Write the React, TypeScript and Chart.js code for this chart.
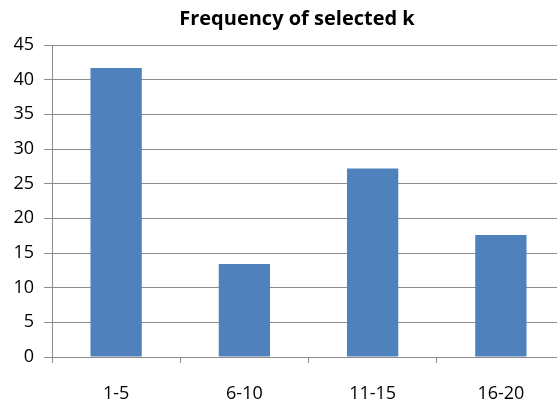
import React, { useEffect, useRef } from "react";
import { Chart, registerables } from "chart.js";

Chart.register(...registerables);

const categories = ["1-5", "6-10", "11-15", "16-20"];
const frequencies = [41.7, 13.4, 27.2, 17.6];
const titleText = "Frequency of selected k";

const FONT = "'Open Sans', 'Noto Sans', sans-serif";

const titleShift = {
  id: "titleShift",
  afterLayout(chart: any) {
    const t = chart.titleBlock;
    if (t) {
      t.left = 29;
    }
  },
};

export default function App() {
  const ref = useRef<HTMLCanvasElement | null>(null);

  useEffect(() => {
    if (!ref.current) return;
    const chart = new Chart(ref.current, {
      type: "bar",
      data: {
        labels: categories,
        datasets: [
          {
            data: frequencies,
            backgroundColor: "#4F81BD",
            borderWidth: 0,
            barPercentage: 0.4,
            categoryPercentage: 1.0,
          },
        ],
      },
      plugins: [titleShift],
      options: {
        animation: false,
        responsive: false,
        maintainAspectRatio: false,
        layout: { padding: { left: 3, right: 29, top: 0, bottom: 0 } },
        plugins: {
          legend: { display: false },
          tooltip: { enabled: false },
          title: {
            display: true,
            text: titleText,
            color: "#000",
            font: { family: FONT, size: 20, weight: "bold" },
            padding: { top: 7, bottom: 14 },
          },
        },
        scales: {
          x: {
            offset: true,
            afterFit: (scale: any) => {
              scale.height = 50;
            },
            grid: {
              offset: true,
              drawOnChartArea: false,
              drawTicks: true,
              tickLength: 6,
              color: "#8c8c8c",
            },
            border: { display: true, color: "#8c8c8c", width: 1 },
            ticks: {
              color: "#000",
              font: { family: FONT, size: 18 },
              padding: 20,
              maxRotation: 0,
            },
          },
          y: {
            min: 0,
            max: 45,
            afterFit: (scale: any) => {
              scale.width = 49;
            },
            ticks: {
              stepSize: 5,
              color: "#000",
              font: { family: FONT, size: 18 },
              padding: 10,
            },
            grid: {
              color: "#8c8c8c",
              tickLength: 8,
              drawTicks: true,
            },
            border: { display: true, color: "#8c8c8c", width: 1 },
          },
        },
      },
    });
    return () => chart.destroy();
  }, []);

  return (
    <div style={{ position: "fixed", left: 0, top: 0, width: 557, height: 407, overflow: "hidden", background: "#fff" }}>
      <canvas ref={ref} width={594} height={407} style={{ display: "block", width: 594, height: 407 }} />
    </div>
  );
}
